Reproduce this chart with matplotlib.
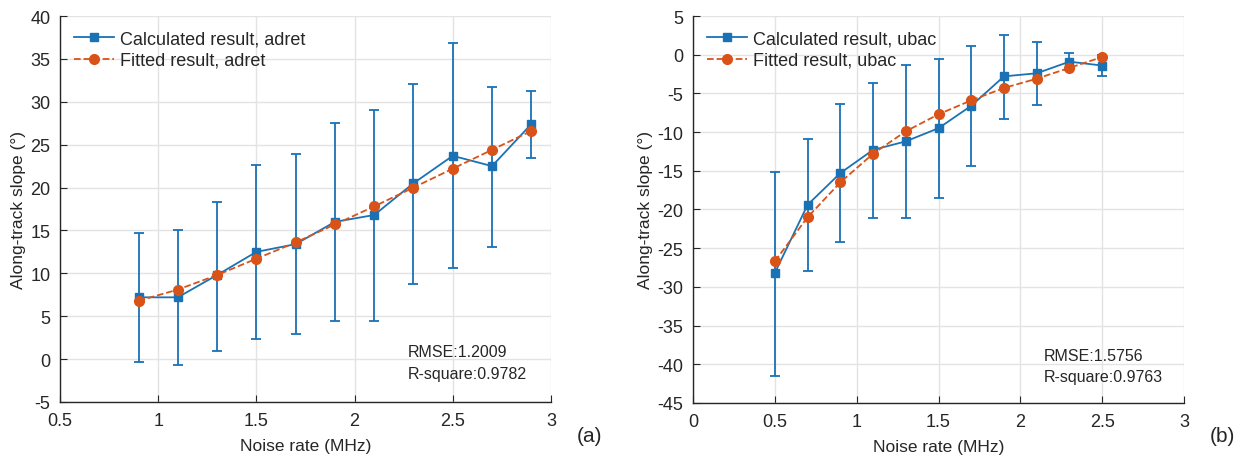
import matplotlib.pyplot as plt
from matplotlib.lines import Line2D
import numpy as np

plt.rcParams['font.family'] = ['Liberation Sans', 'DejaVu Sans']
plt.rcParams['axes.unicode_minus'] = False

# panel (a): adret
x_a = [0.9, 1.1, 1.3, 1.5, 1.7, 1.9, 2.1, 2.3, 2.5, 2.7, 2.9]
calc_a = [7.2, 7.2, 9.8, 12.5, 13.4, 16.0, 16.8, 20.5, 23.7, 22.5, 27.4]
err_top_a = [14.7, 15.0, 18.3, 22.6, 23.9, 27.5, 29.1, 32.1, 36.8, 31.7, 31.2]
err_bot_a = [-0.3, -0.7, 1.0, 2.3, 2.9, 4.4, 4.4, 8.7, 10.6, 13.1, 23.4]
fit_a = [6.8, 8.1, 9.8, 11.7, 13.6, 15.7, 17.8, 20.0, 22.2, 24.4, 26.6]

# panel (b): ubac
x_b = [0.5, 0.7, 0.9, 1.1, 1.3, 1.5, 1.7, 1.9, 2.1, 2.3, 2.5]
calc_b = [-28.2, -19.4, -15.3, -12.3, -11.2, -9.5, -6.6, -2.8, -2.4, -0.9, -1.4]
err_top_b = [-15.1, -10.9, -6.4, -3.6, -1.3, -0.5, 1.1, 2.6, 1.6, 0.2, -0.1]
err_bot_b = [-41.5, -27.9, -24.2, -21.1, -21.1, -18.5, -14.4, -8.3, -6.5, -2.0, -2.8]
fit_b = [-26.7, -21.0, -16.5, -12.8, -9.9, -7.7, -5.9, -4.3, -3.1, -1.7, -0.3]

blue = '#1a72b5'
orange = '#d95319'
ink = '#262626'

fig = plt.figure(figsize=(12.42, 4.6), dpi=100)
ax1 = fig.add_axes([0.0483, 0.124, 0.3953, 0.839])
ax2 = fig.add_axes([0.558, 0.122, 0.3953, 0.841])


def draw(ax, x, calc, top, bot, fit, tag):
    calc = np.array(calc)
    yerr = [calc - np.array(bot), np.array(top) - calc]
    ax.errorbar(x, calc, yerr=yerr, color=blue, marker='s', ms=6, lw=1.3,
                elinewidth=1.3, capsize=3.5, capthick=1.3, zorder=3)
    ax.plot(x, fit, color=orange, ls='--', marker='o', ms=7, lw=1.3, zorder=4)
    ax.grid(True, color='#e3e3e3', lw=1)
    ax.set_axisbelow(True)
    for s in ['top', 'right']:
        ax.spines[s].set_visible(False)
    for s in ['left', 'bottom']:
        ax.spines[s].set_color(ink)
        ax.spines[s].set_linewidth(1.0)
    ax.tick_params(direction='in', labelsize=13, colors=ink, length=5, pad=7)
    ax.set_xlabel('Noise rate (MHz)', fontsize=12.5, color=ink, labelpad=7)
    ax.set_ylabel('Along-track slope (°)', fontsize=12.5, color=ink, labelpad=3)
    handles = [
        Line2D([], [], color=blue, marker='s', ms=6, lw=1.3),
        Line2D([], [], color=orange, marker='o', ms=7, lw=1.3, ls='--'),
    ]
    labels = ['Calculated result, ' + tag, 'Fitted result, ' + tag]
    leg = ax.legend(handles, labels, loc='upper left', frameon=False,
                    fontsize=13, handlelength=2.2, handletextpad=0.3,
                    borderaxespad=0.4, labelspacing=0.25)
    for t in leg.get_texts():
        t.set_color(ink)


draw(ax1, x_a, calc_a, err_top_a, err_bot_a, fit_a, 'adret')
ax1.set_xlim(0.5, 3)
ax1.set_ylim(-5, 40)
ax1.set_xticks([0.5, 1, 1.5, 2, 2.5, 3], ['0.5', '1', '1.5', '2', '2.5', '3'])
ax1.set_yticks(range(-5, 41, 5))
ax1.text(2.27, 0.9, 'RMSE:1.2009', fontsize=11.5, color=ink, va='center')
ax1.text(2.27, -1.7, 'R-square:0.9782', fontsize=11.5, color=ink, va='center')

draw(ax2, x_b, calc_b, err_top_b, err_bot_b, fit_b, 'ubac')
ax2.set_xlim(0, 3)
ax2.set_ylim(-45, 5)
ax2.set_xticks([0, 0.5, 1, 1.5, 2, 2.5, 3], ['0', '0.5', '1', '1.5', '2', '2.5', '3'])
ax2.set_yticks(range(-45, 6, 5))
ax2.text(2.14, -38.9, 'RMSE:1.5756', fontsize=11.5, color=ink, va='center')
ax2.text(2.14, -41.6, 'R-square:0.9763', fontsize=11.5, color=ink, va='center')

fig.text(590 / 1242, 1 - 437 / 460, '(a)', fontsize=15, color=ink,
         ha='center', va='center')
fig.text(1222 / 1242, 1 - 437 / 460, '(b)', fontsize=15, color=ink,
         ha='center', va='center')

fig.savefig('out.png', dpi=100)
